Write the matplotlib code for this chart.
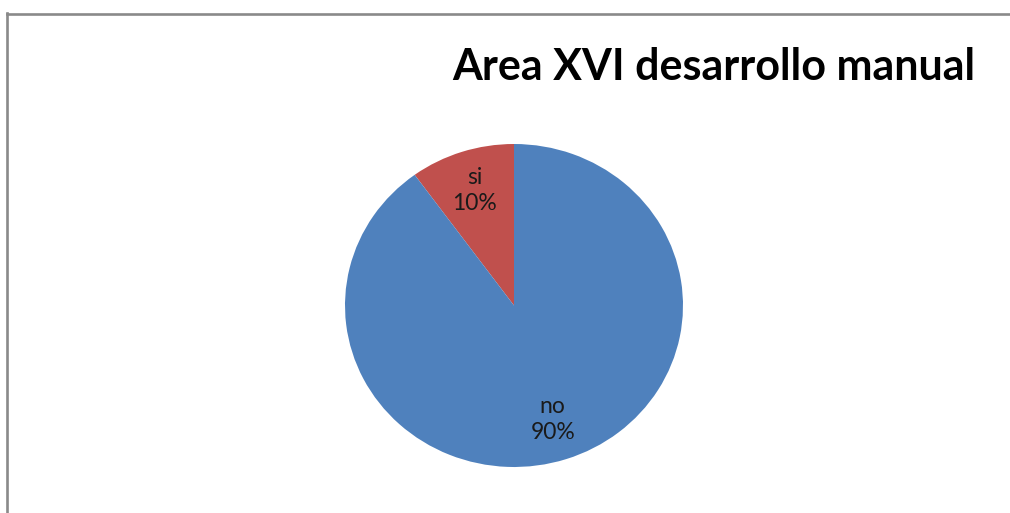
import numpy as np
import matplotlib.pyplot as plt
from matplotlib.lines import Line2D

labels = ['si', 'no']
values = [10, 90]
colors = ['#C0504D', '#4F81BD']

W, H = 1010, 513
fig = plt.figure(figsize=(W / 100, H / 100), dpi=100)

# pie area in pixels (slightly wider than tall, as in the original)
px_l, px_r, px_t, px_b = 345, 683, 144, 467
ax = fig.add_axes([px_l / W, (H - px_b) / H, (px_r - px_l) / W, (px_b - px_t) / H])
wedges, _ = ax.pie(values, colors=colors, startangle=90, counterclock=True,
                   wedgeprops=dict(linewidth=0))
ax.set_aspect('auto')
ax.set_xlim(-1, 1)
ax.set_ylim(-1, 1)

total = sum(values)
radii = [0.75, 0.74]
for w, lab, v, r in zip(wedges, labels, values, radii):
    ang = np.deg2rad((w.theta1 + w.theta2) / 2)
    ax.text(r * np.cos(ang), r * np.sin(ang), f'{lab}\n{v / total:.0%}',
            ha='center', va='center', fontsize=16.5, family='Lato',
            color='#1a1a1a', linespacing=1.3)

# frame (top and left edges only visible)
gray = '#8a8a8a'
fig.add_artist(Line2D([6.5 / W, 1.0], [1 - 13.5 / H, 1 - 13.5 / H],
                      transform=fig.transFigure, color=gray, lw=1.9))
fig.add_artist(Line2D([7 / W, 7 / W], [1 - 13 / H, 0],
                      transform=fig.transFigure, color=gray, lw=1.9))

fig.text(975 / W, 1 - 80 / H, 'Area XVI desarrollo manual', ha='right',
         va='baseline', fontsize=31, fontweight='bold', family='Lato',
         color='black')

fig.savefig('out.png', dpi=100)
